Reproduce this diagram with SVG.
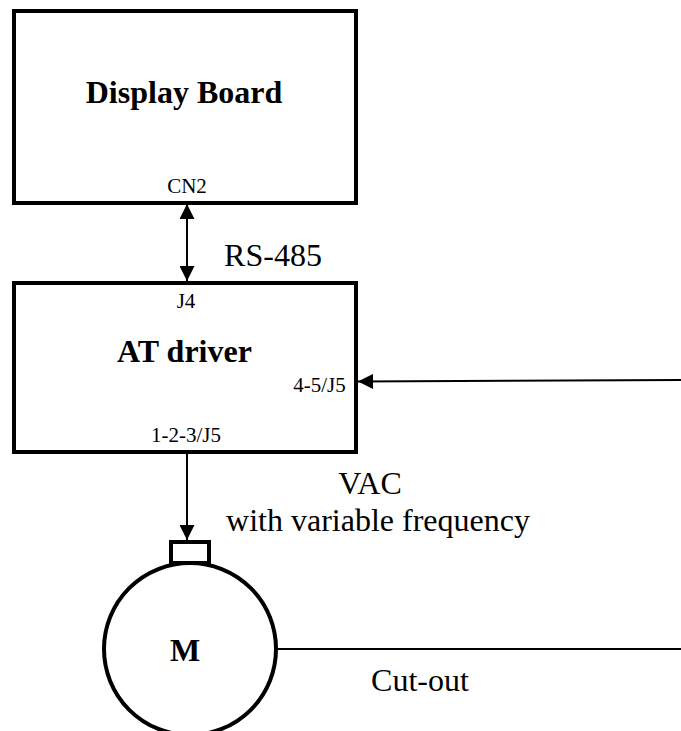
<svg xmlns="http://www.w3.org/2000/svg" width="681" height="731" viewBox="0 0 681 731">
<style>
.n{fill:#fff;stroke:#000;stroke-width:4}
.c{fill:none;stroke:#000;stroke-width:2}
text{font-family:"Liberation Serif","Times New Roman",serif;fill:#000;text-anchor:middle}
.b{font-weight:bold}
.l{font-size:32px}
.s{font-size:21px}
</style>
<defs>
<marker id="a" markerUnits="userSpaceOnUse" markerWidth="15" markerHeight="15" refX="15" refY="7.5" orient="auto-start-reverse"><path d="M0 0L15 7.5L0 15Z" fill="#000"/></marker>
</defs>
<rect width="681" height="731" fill="#fff"/>
<g id="connectors">
<path class="c" d="M187 204V281" marker-start="url(#a)" marker-end="url(#a)"/>
<path class="c" d="M681 380L358 381.5" marker-end="url(#a)"/>
<path class="c" d="M187 453V540" marker-end="url(#a)"/>
<path class="c" d="M277 649H681"/>
</g>
<g id="display-board"><rect class="n" x="14" y="11" width="342" height="192"/>
<text class="b l" x="184" y="103">Display Board</text>
<text class="s" x="187" y="193">CN2</text></g>
<g id="at-driver"><rect class="n" x="14" y="283" width="342" height="169"/>
<text class="s" x="186" y="308">J4</text>
<text class="b l" x="184.5" y="362">AT driver</text>
<text class="s" x="319.5" y="392">4-5/J5</text>
<text class="s" x="186" y="442">1-2-3/J5</text></g>
<g id="motor"><circle class="n" cx="190" cy="649" r="86"/>
<rect class="n" x="171" y="542" width="38" height="21"/>
<text class="b l" x="185" y="661">M</text></g>
<g id="labels">
<text class="l" x="273" y="266">RS-485</text>
<text class="l" x="370" y="494">VAC</text>
<text class="l" x="378" y="531">with variable frequency</text>
<text class="l" x="420" y="691">Cut-out</text></g>
</svg>
